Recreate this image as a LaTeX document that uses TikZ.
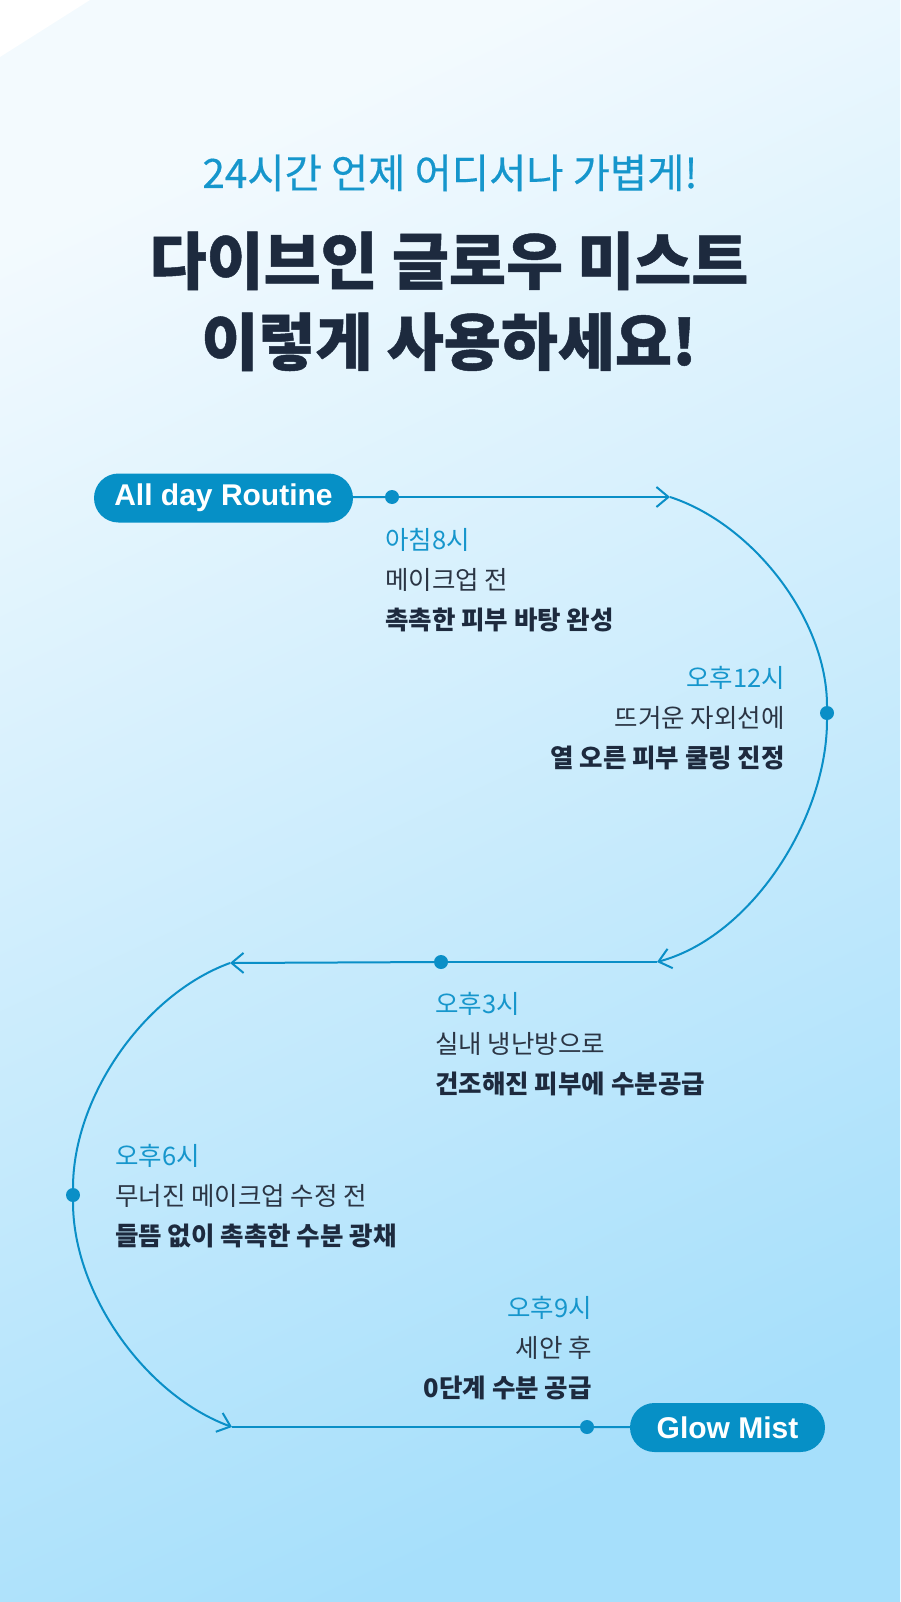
\documentclass[tikz,border=0pt]{standalone}
\usepackage{fontspec}
\setmainfont{Noto Sans CJK KR}
\newfontfamily\heavyfont{Noto Sans CJK KR}[BoldFeatures={FakeBold=0.8}]
\newfontfamily\mediumfont{Noto Sans CJK KR}[FakeBold=0.4]
\newfontfamily\badgefont{Liberation Sans}
\usetikzlibrary{arrows.meta}

\definecolor{bgtop}{HTML}{F3FAFE}
\definecolor{bgbot}{HTML}{A6DFFB}
\definecolor{flowblue}{HTML}{0A8FC7}
\definecolor{badgeblue}{HTML}{0690C6}
\definecolor{timeblue}{HTML}{1696CC}
\definecolor{navy}{HTML}{1D2A3E}
\definecolor{bodygray}{HTML}{2B3544}

\newcommand\timelabel[1]{\textcolor{timeblue}{#1}}
\newcommand\keyline[1]{\textcolor{navy}{\bfseries #1}}

\tikzset{
  flow/.style={draw=flowblue, line width=2pt},
  dot/.style={circle, fill=flowblue, inner sep=0pt, minimum size=14pt},
  badge/.style={fill=badgeblue, rounded corners=24.5pt, minimum height=49pt, inner sep=0pt,
    text=white, font=\badgefont\bfseries\fontsize{30}{30}\selectfont},
  routetext/.style={inner sep=0pt, text=bodygray, font=\fontsize{25.5}{40}\selectfont},
  barb/.tip={Straight Barb[length=12pt, width=20pt]}
}

\begin{document}
\begin{tikzpicture}[x=1pt, y=1pt]
    \useasboundingbox (0,0) rectangle (900,-1602);
    % background
    \shade[top color=bgtop, bottom color=bgbot, shading angle=25] (0,0) rectangle (900,-1602);
    \fill[white] (0,0) -- (90,0) -- (0,-57) -- cycle;

    % heading
    \node[anchor=base, inner sep=0pt, text=timeblue, font=\mediumfont\fontsize{40.5}{40}\selectfont] (sub) at (450,-188) {24시간 언제 어디서나 가볍게!};
    \node[anchor=base, inner sep=0pt, text=navy, font=\heavyfont\bfseries\fontsize{62}{81}\selectfont, align=center] (title) at (449,-365) {다이브인 글로우 미스트\\이렇게 사용하세요!};

    % route
    \node[badge, minimum width=259pt] (allday) at (223.5,-498) {All day Routine};
    \node[dot] (t8) at (392,-497) {};
    \node[dot] (t12) at (827,-713) {};
    \node[dot] (t3) at (441,-962) {};
    \node[dot] (t6) at (73,-1195) {};
    \node[dot] (t9) at (587,-1427) {};
    \node[badge, minimum width=195pt] (glow) at (727.5,-1427.5) {Glow Mist};
    \coordinate (turnA) at (670,-497);
    \coordinate (turnB) at (657,-962);
    \coordinate (turnC) at (230,-963);
    \coordinate (turnD) at (232,-1427);

    \draw[flow] (allday) -- (t8);
    \draw[flow, -barb] (t8) -- (turnA);
    \draw[flow] (turnA) to[out=-18, in=90, looseness=.85] (t12);
    \draw[flow, -barb] (t12) to[out=-90, in=15, looseness=.85] (turnB);
    \draw[flow] (turnB) -- (t3);
    \draw[flow, -barb] (t3) -- (turnC);
    \draw[flow] (turnC) to[out=200, in=90, looseness=.85] (t6);
    \draw[flow, -barb] (t6) to[out=-90, in=160, looseness=.85] (turnD);
    \draw[flow] (turnD) -- (t9);
    \draw[flow] (t9) -- (glow);

    % times of day (anchor = baseline of the last line)
    \node[routetext, anchor=base west, align=left] (at8) at (385,-629) {\timelabel{아침8시}\\메이크업 전\\\keyline{촉촉한 피부 바탕 완성}};
    \node[routetext, anchor=base east, align=right] (at12) at (785,-767) {\timelabel{오후12시}\\뜨거운 자외선에\\\keyline{열 오른 피부 쿨링 진정}};
    \node[routetext, anchor=base west, align=left] (at3) at (435,-1093) {\timelabel{오후3시}\\실내 냉난방으로\\\keyline{건조해진 피부에 수분공급}};
    \node[routetext, anchor=base west, align=left] (at6) at (115,-1245) {\timelabel{오후6시}\\무너진 메이크업 수정 전\\\keyline{들뜸 없이 촉촉한 수분 광채}};
    \node[routetext, anchor=base east, align=right] (at9) at (592,-1397) {\timelabel{오후9시}\\세안 후\\\keyline{0단계 수분 공급}};
\end{tikzpicture}
\end{document}
